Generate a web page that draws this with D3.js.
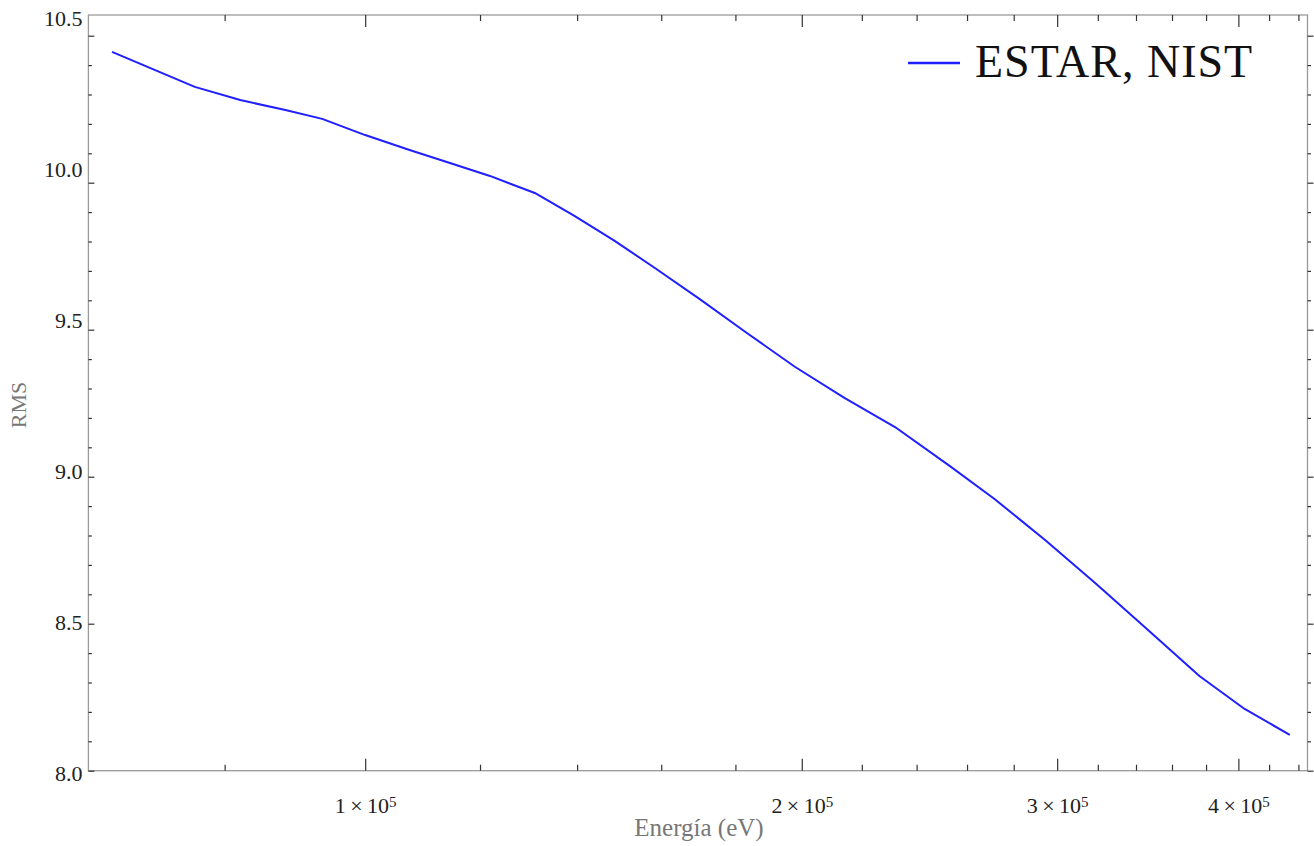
<!DOCTYPE html>
<html>
<head>
<meta charset="utf-8">
<script src="https://cdn.jsdelivr.net/npm/d3@7"></script>
<style>
  html, body { margin: 0; padding: 0; background: #fff; }
  svg { display: block; }
</style>
</head>
<body>
<svg id="chart" width="1314" height="846"></svg>
<script>
// Electron energies (eV) and RMS values, ESTAR / NIST curve
const energies = [66900, 76300, 82000, 88100, 93400, 100000, 107300, 114400, 121900, 130900,
                  139400, 148600, 158400, 170000, 182800, 197800, 214000, 231900, 252900,
                  271600, 294300, 318500, 344700, 376000, 404000, 434000];
const rms = [10.445, 10.326, 10.281, 10.247, 10.217, 10.162, 10.111, 10.067, 10.023, 9.965,
             9.887, 9.802, 9.710, 9.605, 9.493, 9.374, 9.268, 9.169, 9.037,
             8.924, 8.785, 8.639, 8.489, 8.322, 8.210, 8.122];

const xMajorTicks = [1e5, 2e5, 3e5, 4e5];
const yMajorTicks = [8.0, 8.5, 9.0, 9.5, 10.0, 10.5];
const seriesName = "ESTAR, NIST";
const xTitle = "Energía (eV)";
const yTitle = "RMS";

const plotLeft = 88.4, plotRight = 1307.5, plotTop = 15, plotBottom = 770.7;
const serif = "'Liberation Serif', 'DejaVu Serif', serif";

const svg = d3.select("#chart");

const x = d3.scaleLog().domain([64440, 446400]).range([plotLeft, plotRight]);
const y = d3.scaleLinear().domain([8.0, 10.5704]).range([plotBottom, plotTop]);
// tick labels are spread over a slightly taller band than the tick marks
const yLabel = d3.scaleLinear().domain([8.0, 10.5]).range([773.3, 18]);

const [xd0, xd1] = x.domain();
const xMinorTicks = d3.range(60000, 460000, 20000)
  .filter(v => v >= xd0 && v <= xd1 && !xMajorTicks.includes(v));
const yMinorTicks = d3.range(80, 106, 1).map(v => v / 10)
  .filter(v => !yMajorTicks.some(m => Math.abs(m - v) < 1e-9));

const tickColor = "#333";
const frameColor = "#9a9a9a";

// frame
svg.append("rect")
  .attr("x", plotLeft).attr("y", plotTop)
  .attr("width", plotRight - plotLeft).attr("height", plotBottom - plotTop)
  .attr("fill", "none").attr("stroke", frameColor).attr("stroke-width", 1.3);

function styleAxis(g) {
  g.select(".domain").remove();
  g.selectAll(".tick line").attr("stroke", tickColor).attr("stroke-width", 1.2);
}

// bottom axis
svg.append("g").attr("transform", `translate(0,${plotBottom})`)
  .call(d3.axisBottom(x).tickValues(xMinorTicks).tickSize(-6).tickFormat(""))
  .call(styleAxis);
const gx = svg.append("g").attr("transform", `translate(0,${plotBottom})`)
  .call(d3.axisBottom(x).tickValues(xMajorTicks).tickSize(-12).tickPadding(27));
styleAxis(gx);
gx.selectAll(".tick text")
  .attr("font-family", serif).attr("font-size", 22).attr("fill", "#222")
  .each(function(d) {
    const t = d3.select(this);
    t.text(null);
    t.append("tspan").text(`${Math.round(d / 1e5)}\u2009×\u200910`);
    t.append("tspan").attr("dy", "-0.45em").attr("font-size", "15").text("5");
  });

// top axis (no labels)
svg.append("g").attr("transform", `translate(0,${plotTop})`)
  .call(d3.axisTop(x).tickValues(xMinorTicks).tickSize(-6).tickFormat(""))
  .call(styleAxis);
svg.append("g").attr("transform", `translate(0,${plotTop})`)
  .call(d3.axisTop(x).tickValues(xMajorTicks).tickSize(-12).tickFormat(""))
  .call(styleAxis);

// left axis
svg.append("g").attr("transform", `translate(${plotLeft},0)`)
  .call(d3.axisLeft(y).tickValues(yMinorTicks).tickSize(-3.5).tickFormat(""))
  .call(styleAxis);
const gy = svg.append("g").attr("transform", `translate(${plotLeft},0)`)
  .call(d3.axisLeft(y).tickValues(yMajorTicks).tickSize(-6).tickPadding(6)
        .tickFormat(d3.format(".1f")));
styleAxis(gy);
gy.selectAll(".tick text")
  .attr("font-family", serif).attr("font-size", 22).attr("fill", "#222")
  .attr("y", d => yLabel(d) - y(d));

// right axis (ticks only)
svg.append("g").attr("transform", `translate(${plotRight},0)`)
  .call(d3.axisRight(y).tickValues(yMinorTicks).tickSize(3.5).tickFormat(""))
  .call(styleAxis);
svg.append("g").attr("transform", `translate(${plotRight},0)`)
  .call(d3.axisRight(y).tickValues(yMajorTicks).tickSize(6).tickFormat(""))
  .call(styleAxis);

// curve
const points = energies.map((e, i) => [e, rms[i]]);
svg.append("path")
  .datum(points)
  .attr("fill", "none")
  .attr("stroke", "#1f1fff")
  .attr("stroke-width", 2)
  .attr("stroke-linejoin", "round")
  .attr("d", d3.line().x(d => x(d[0])).y(d => y(d[1])));

// axis titles
svg.append("text")
  .attr("x", 699).attr("y", 836)
  .attr("text-anchor", "middle")
  .attr("font-family", serif).attr("font-size", 25).attr("fill", "#777")
  .text(xTitle);
svg.append("text")
  .attr("transform", "translate(26,405) rotate(-90)")
  .attr("text-anchor", "middle")
  .attr("font-family", serif).attr("font-size", 22).attr("fill", "#777")
  .text(yTitle);

// legend
const legend = svg.append("g");
legend.append("line")
  .attr("x1", 908).attr("x2", 960).attr("y1", 63).attr("y2", 63)
  .attr("stroke", "#1f1fff").attr("stroke-width", 2.5);
legend.append("text")
  .attr("x", 975).attr("y", 77)
  .attr("font-family", serif).attr("font-size", 46).attr("fill", "#111")
  .attr("letter-spacing", 1)
  .text(seriesName);
</script>
</body>
</html>
